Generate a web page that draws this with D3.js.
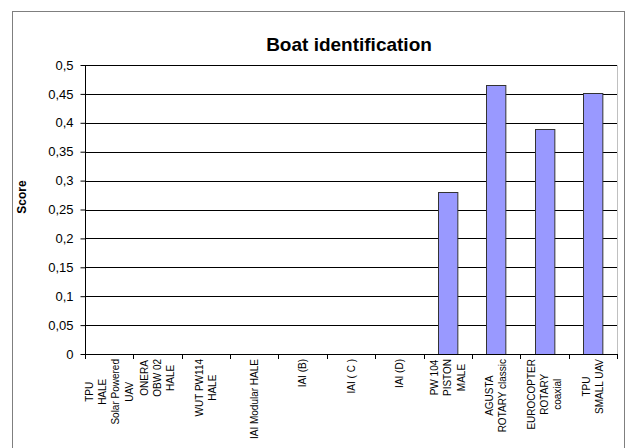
<!DOCTYPE html>
<html>
<head>
<meta charset="utf-8">
<script src="https://cdn.jsdelivr.net/npm/d3@7"></script>
<style>
    body { margin: 0; background: #fff; }
    svg { display: block; font-family: Arial, "Liberation Sans", sans-serif; }
</style>
</head>
<body>
<div id="chart"></div>
<script>
// categories, each one split into its label lines
const categories = [
    ["TPU", "HALE", "Solar Powered", "UAV"],
    ["ONERA", "OBW 02", "HALE"],
    ["WUT PW114", "HALE"],
    ["IAI Modular HALE"],
    ["IAI (B)"],
    ["IAI ( C )"],
    ["IAI (D)"],
    ["PW 104", "PISTON", "MALE"],
    ["AGUSTA", "ROTARY classic"],
    ["EUROCOPTER", "ROTARY", "coaxial"],
    ["TPU", "SMALL UAV"]
];
const scores = [0, 0, 0, 0, 0, 0, 0, 0.28, 0.465, 0.389, 0.451];
const yTicks = [0, 0.05, 0.1, 0.15, 0.2, 0.25, 0.3, 0.35, 0.4, 0.45, 0.5];

const width = 626, height = 448;
const plot = { left: 85, right: 617, top: 65, bottom: 354 };

const svg = d3.select("#chart").append("svg")
    .attr("width", width)
    .attr("height", height);

// outer chart frame
svg.append("rect")
    .attr("x", 12.5).attr("y", 11.5)
    .attr("width", 612).attr("height", 450)
    .attr("fill", "#fff")
    .attr("stroke", "#7f7f7f");

const x = d3.scaleBand()
    .domain(d3.range(categories.length))
    .range([plot.left, plot.right])
    .paddingInner(0.6)
    .paddingOuter(0.3);

const y = d3.scaleLinear()
    .domain([0, 0.5])
    .range([plot.bottom, plot.top]);

// plot area border (top/right grey)
svg.append("path")
    .attr("d", `M${plot.left},${plot.top + 0.5}H${plot.right + 0.5}V${plot.bottom}`)
    .attr("fill", "none")
    .attr("stroke", "#c0c0c0");

// gridlines
svg.append("g")
    .selectAll("line")
    .data(yTicks.filter(t => t > 0))
    .enter()
    .append("line")
    .attr("x1", plot.left)
    .attr("x2", plot.right)
    .attr("y1", d => Math.round(y(d)) + 0.5)
    .attr("y2", d => Math.round(y(d)) + 0.5)
    .attr("stroke", "#000");

// bars
svg.append("g")
    .selectAll("rect")
    .data(scores)
    .enter()
    .append("rect")
    .attr("x", (d, i) => Math.round(x(i)) + 0.5)
    .attr("y", d => Math.round(y(d)) + 0.5)
    .attr("width", x.bandwidth())
    .attr("height", d => plot.bottom - Math.round(y(d)))
    .attr("fill", "#9999ff")
    .attr("stroke", "#333")
    .style("display", d => d > 0 ? null : "none");

// y axis
const yAxis = svg.append("g")
    .attr("transform", `translate(${plot.left + 0.5},0)`)
    .call(d3.axisLeft(y).tickValues(yTicks).tickSize(5).tickPadding(7)
        .tickFormat(d => String(d).replace(".", ",")));
yAxis.select(".domain").attr("d", `M0,${plot.top}V${plot.bottom + 0.5}`).attr("stroke", "#000");
yAxis.selectAll(".tick line").attr("stroke", "#000");
yAxis.selectAll("text").attr("font-size", 13).attr("fill", "#000")
    .attr("font-family", "Arial, 'Liberation Sans', sans-serif");

// x axis: ticks between categories
const xg = svg.append("g");
xg.append("line")
    .attr("x1", plot.left).attr("x2", plot.right + 1)
    .attr("y1", plot.bottom + 0.5).attr("y2", plot.bottom + 0.5)
    .attr("stroke", "#000");
const step = (plot.right - plot.left) / categories.length;
xg.selectAll(".xt")
    .data(d3.range(categories.length + 1))
    .enter()
    .append("line")
    .attr("x1", i => Math.round(plot.left + i * step) + 0.5)
    .attr("x2", i => Math.round(plot.left + i * step) + 0.5)
    .attr("y1", plot.bottom)
    .attr("y2", plot.bottom + 5)
    .attr("stroke", "#000");

// x labels, rotated, lines centred in a block hanging below the axis
const lineH = 13.4;
xg.selectAll(".xl")
    .data(categories)
    .enter()
    .append("text")
    .attr("font-size", 10)
    .attr("fill", "#000")
    .attr("text-anchor", "middle")
    .each(function (lines, i) {
        const t = d3.select(this);
        lines.forEach(ln => t.append("tspan").text(ln));
        const lens = [];
        t.selectAll("tspan").each(function () { lens.push(this.getComputedTextLength()); });
        const blockLen = d3.max(lens);
        const cx = x(i) + x.bandwidth() / 2;
        const cy = 359 + blockLen / 2;
        const offset0 = -(lines.length - 1) / 2 * lineH;
        t.attr("transform", `translate(${cx},${cy}) rotate(-90)`);
        t.selectAll("tspan")
            .attr("x", 0)
            .attr("y", (d, k) => offset0 + k * lineH + 3.5);
    });

// title
svg.append("text")
    .attr("x", 349)
    .attr("y", 51)
    .attr("text-anchor", "middle")
    .attr("font-size", 19)
    .attr("font-weight", "bold")
    .text("Boat identification");

// y axis title
svg.append("text")
    .attr("transform", "translate(26,197) rotate(-90)")
    .attr("text-anchor", "middle")
    .attr("font-size", 12)
    .attr("font-weight", "bold")
    .text("Score");
</script>
</body>
</html>
